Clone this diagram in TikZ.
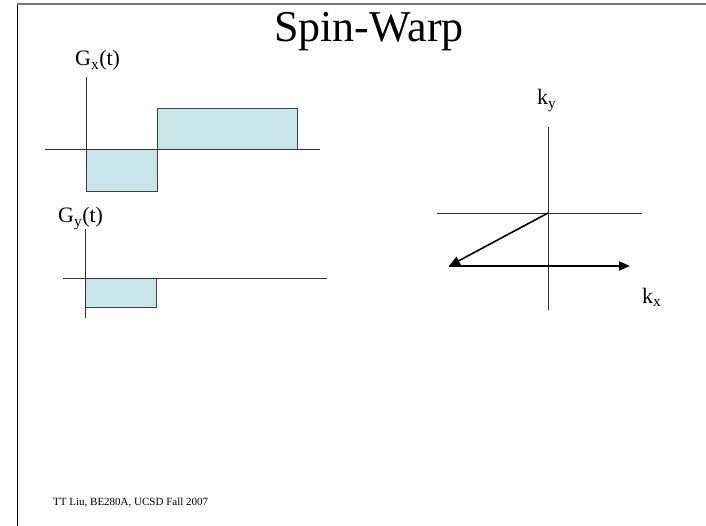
\documentclass[tikz,border=0pt]{standalone}
\usepackage{fontspec}
\setmainfont{Liberation Serif}
\usetikzlibrary{arrows.meta}
\definecolor{lobefill}{RGB}{200,229,233}
\definecolor{framegray}{RGB}{120,120,120}

\tikzset{
  axis/.style={draw=black!80, line width=0.8pt},
  lobe/.style={draw=black!75, fill=lobefill, line width=0.8pt},
  traj/.style={line width=1.6pt, -{Triangle[length=11pt,width=9pt]}},
  lbl/.style={anchor=base west, inner sep=0pt, font=\fontsize{22}{22}\selectfont}
}

\begin{document}
\begin{tikzpicture}[x=1pt,y=-1pt]
            \useasboundingbox (0,0) rectangle (706,526);
            % Slide frame
            \draw[line width=1pt] (17,4) -- (17,526);
            \draw[framegray, line width=2pt] (17,4) -- (706,4);
            \node[anchor=base, inner sep=0pt, font=\fontsize{44}{44}\selectfont] (title) at (369,42) {Spin-Warp};

            % Gx waveform
            \coordinate (gxo) at (86,149);
            \draw[lobe] (gxo) rectangle (157,191);
            \draw[lobe] (157,149) rectangle (297,108);
            \draw[axis] (45,149) -- (320,149);
            \draw[axis] (86,77) -- (86,166);
            \node[lbl] (gxlab) at (75,66) {G\textsubscript{x}(t)};

            % Gy waveform
            \coordinate (gyo) at (85,278);
            \draw[lobe] (gyo) rectangle (156,307);
            \draw[axis] (63,278) -- (327,278);
            \draw[axis] (85,229) -- (85,318);
            \node[lbl] (gylab) at (58,223) {G\textsubscript{y}(t)};

            % k-space
            \draw[axis] (437,213) -- (642,213);
            \draw[axis] (548,127) -- (548,310);
            \coordinate (korig) at (548,213);
            \coordinate (kstart) at (449,266);
            \coordinate (kend) at (630,266);
            \draw[traj] (korig) -- (kstart);
            \draw[traj] (kstart) -- (kend);
            \node[lbl] (kylab) at (537,105) {k\textsubscript{y}};
            \node[lbl] (kxlab) at (642,303) {k\textsubscript{x}};

            % Footer
            \node[anchor=base west, inner sep=0pt, font=\fontsize{11}{11}\selectfont] (foot) at (53,505) {TT Liu, BE280A, UCSD Fall 2007};
        \end{tikzpicture}
\end{document}
